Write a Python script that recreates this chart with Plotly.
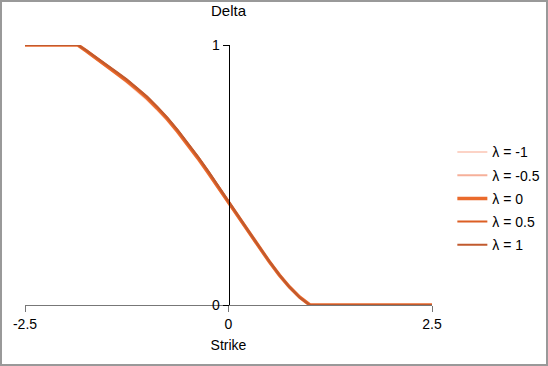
import plotly.graph_objects as go

strike = [-2.5, -2.0, -1.85, -1.75, -1.625, -1.5, -1.375, -1.25, -1.125, -1.0,
          -0.875, -0.75, -0.625, -0.5, -0.375, -0.25, -0.125, 0.0, 0.125, 0.25,
          0.375, 0.5, 0.625, 0.75, 0.875, 1.0, 1.5, 2.0, 2.5]

delta_m1 = [1, 1, 1, 0.976, 0.947, 0.918, 0.887, 0.856, 0.823, 0.788, 0.75, 0.708,
            0.661, 0.611, 0.558, 0.503, 0.447, 0.389, 0.332, 0.275, 0.219, 0.165,
            0.114, 0.069, 0.031, 0, 0, 0, 0]
delta_m05 = [1, 1, 1, 0.977, 0.949, 0.92, 0.89, 0.859, 0.827, 0.792, 0.754, 0.712,
             0.665, 0.615, 0.562, 0.507, 0.45, 0.392, 0.335, 0.277, 0.221, 0.166,
             0.115, 0.069, 0.03, 0, 0, 0, 0]
delta_0 = [1, 1, 1, 0.978, 0.95, 0.922, 0.892, 0.862, 0.83, 0.796, 0.757, 0.715,
           0.668, 0.618, 0.565, 0.51, 0.453, 0.395, 0.337, 0.279, 0.222, 0.167,
           0.115, 0.069, 0.03, 0, 0, 0, 0]
delta_p05 = [1, 1, 1, 0.979, 0.951, 0.924, 0.894, 0.865, 0.833, 0.799, 0.76, 0.718,
             0.671, 0.621, 0.568, 0.513, 0.456, 0.398, 0.339, 0.281, 0.223, 0.168,
             0.116, 0.069, 0.03, 0, 0, 0, 0]
delta_p1 = [1, 1, 1, 0.98, 0.953, 0.926, 0.897, 0.868, 0.836, 0.802, 0.763, 0.721,
            0.674, 0.624, 0.571, 0.516, 0.459, 0.401, 0.341, 0.283, 0.224, 0.169,
            0.116, 0.069, 0.029, 0, 0, 0, 0]

names = ["λ = -1", "λ = -0.5", "λ = 0", "λ = 0.5", "λ = 1"]
series = [delta_m1, delta_m05, delta_0, delta_p05, delta_p1]
colors = ["#fcd3c6", "#f6b09a", "#ea6a2c", "#dc5f24", "#c15a2e"]
widths = [2, 2, 3.5, 2, 2]

fig = go.Figure()
for name, ys, c, w in zip(names, series, colors, widths):
    fig.add_trace(go.Scatter(x=strike, y=ys, mode="lines", name=name, legendgroup=name,
                             line=dict(color=c, width=w)))

W, H = 548, 366
ml, mr, mt, mb = 25, 116, 45, 61
pw, ph = W - ml - mr, H - mt - mb

fig.update_layout(
    width=W, height=H,
    margin=dict(l=ml, r=mr, t=mt, b=mb, autoexpand=False),
    paper_bgcolor="white", plot_bgcolor="white",
    font=dict(family="Liberation Sans, Arial, sans-serif", size=14, color="black"),
    title=dict(text="Delta", x=0.5, xref="paper", y=1 - 11 / H, yanchor="middle",
               font=dict(size=15)),
    showlegend=True,
    legend=dict(x=1.05, y=0.41, yanchor="middle", bgcolor="rgba(0,0,0,0)",
                font=dict(size=14), tracegroupgap=2, itemwidth=30),
    xaxis=dict(range=[-2.5, 2.5], tickvals=[-2.5, 0, 2.5], ticktext=["-2.5", "0", "2.5"],
               showgrid=False, zeroline=False, showline=True, linecolor="#777",
               linewidth=1, ticks="outside", ticklen=6, tickcolor="#777",
               title=dict(text="Strike", standoff=9, font=dict(size=14))),
    yaxis=dict(range=[0, 1], tickvals=[0, 1], showgrid=False, zeroline=False,
               showline=True, linecolor="black", linewidth=1, ticks="outside",
               ticklen=6, tickcolor="black", anchor="free", position=0.5),
)

fig.add_shape(type="rect", xref="paper", yref="paper",
              x0=(1 - ml) / pw, x1=(W - 1 - ml) / pw,
              y0=-(mb - 1) / ph, y1=1 + (mt - 1) / ph,
              line=dict(color="#999", width=2), fillcolor="rgba(0,0,0,0)", layer="above")

fig.write_html(
    "out.html",
    config={"responsive": False, "displayModeBar": False},
    post_script="document.body.style.margin='0';",
)
